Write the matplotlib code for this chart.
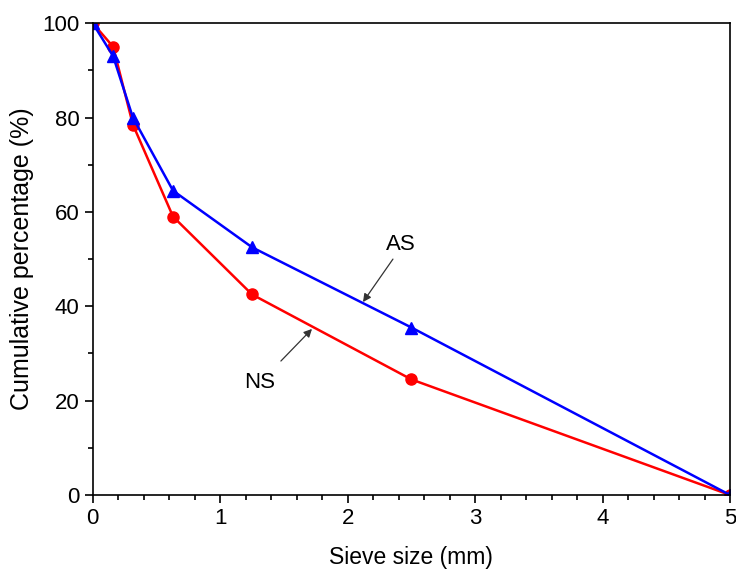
import matplotlib.pyplot as plt
from matplotlib.ticker import MultipleLocator

plt.rcParams['font.family'] = ['Liberation Sans', 'DejaVu Sans']

# sieve sizes (mm) and cumulative passing (%)
sieve_mm = [0, 0.16, 0.315, 0.63, 1.25, 2.5, 5]
ns_pct = [100, 95, 78.5, 59, 42.5, 24.5, 0]
as_pct = [100, 93, 80, 64.5, 52.5, 35.5, 0]

fig = plt.figure(figsize=(7.36, 5.79), dpi=100)
ax = fig.add_axes([0.126, 0.145, 0.866, 0.815])

ax.plot(sieve_mm, ns_pct, color='#ff0000', marker='o', markersize=8, linewidth=1.8)
ax.plot(sieve_mm, as_pct, color='#0000ff', marker='^', markersize=8, linewidth=1.8)

arrow = dict(arrowstyle='-|>', color='#333333', lw=0.9,
             shrinkA=0, shrinkB=0, mutation_scale=12)
ax.text(2.42, 53.0, 'AS', fontsize=16, ha='center', va='center')
ax.annotate('', xy=(2.12, 40.9), xytext=(2.355, 50.0), arrowprops=arrow)
ax.text(1.31, 23.9, 'NS', fontsize=16, ha='center', va='center')
ax.annotate('', xy=(1.72, 35.2), xytext=(1.476, 28.4), arrowprops=arrow)

ax.set_xlim(0, 5)
ax.set_ylim(0, 100)
ax.xaxis.set_major_locator(MultipleLocator(1))
ax.xaxis.set_minor_locator(MultipleLocator(0.2))
ax.yaxis.set_major_locator(MultipleLocator(20))
ax.yaxis.set_minor_locator(MultipleLocator(10))
ax.tick_params(which='both', direction='out', labelsize=16, width=1.2)
ax.tick_params(which='major', length=6)
ax.tick_params(which='minor', length=3.5)
for s in ax.spines.values():
    s.set_linewidth(1.2)

ax.set_xlabel('Sieve size (mm)', fontsize=16.5, labelpad=12)
ax.set_ylabel('Cumulative percentage (%)', fontsize=18, labelpad=6)

fig.savefig('out.png', dpi=100)
